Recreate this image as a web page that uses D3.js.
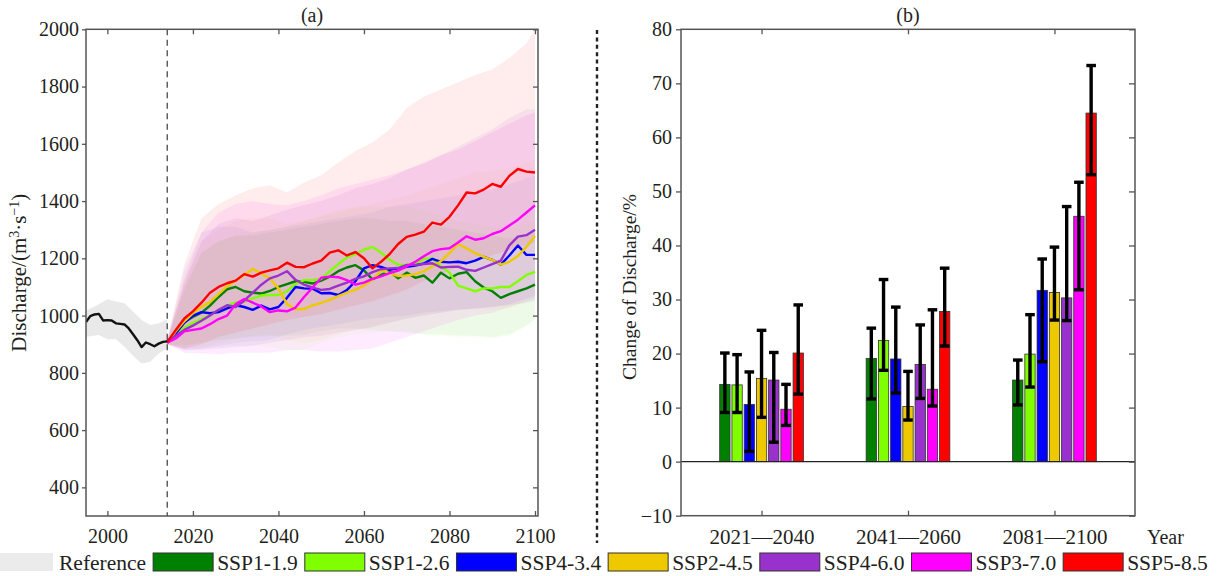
<!DOCTYPE html>
<html><head><meta charset="utf-8">
<script src="https://cdn.jsdelivr.net/npm/d3@7"></script>
<style>
html,body{margin:0;padding:0;background:#fff;}
</style></head><body>
<svg id="chart" width="1217" height="576"></svg>
<script>
// ---------- scenarios ----------
const scenarios = ["SSP1-1.9","SSP1-2.6","SSP4-3.4","SSP2-4.5","SSP4-6.0","SSP3-7.0","SSP5-8.5"];
const colors    = ["#008000","#7FFF00","#0000FF","#EEC900","#9932CC","#FF00FF","#FF0000"];
const bandAlpha = [0.045,0.05,0.045,0.05,0.075,0.08,0.075];

// ---------- panel (a): observed reference period ----------
const refYears = d3.range(1995, 2015);
const refDischarge = [977,998,1004,1006,983,984,983,973,971,969,955,935,914,890,906,900,893,902,908,910];
const refBandYears = [1995,1998,2000,2002,2004,2006,2008,2010,2012,2014];
const refUpper = [1017,1040,1057,1049,1043,1014,985,967,973,987];
const refLower = [926,932,917,917,891,860,833,839,868,886];

// ---------- panel (a): projected ensemble means (every 2 years, 2014-2100) ----------
const projYears = d3.range(2014, 2101, 2);
const ssp119 = [905,940,978,995,1010,1035,1065,1092,1100,1085,1080,1077,1086,1100,1110,1120,1118,1112,1122,1136,1155,1168,1176,1158,1126,1142,1155,1130,1150,1132,1140,1115,1150,1130,1146,1152,1120,1098,1085,1062,1075,1085,1095,1108];
const ssp126 = [905,935,958,975,988,1002,1018,1035,1046,1048,1060,1070,1072,1072,1085,1110,1124,1124,1128,1155,1180,1203,1215,1230,1240,1220,1195,1178,1177,1180,1198,1200,1172,1150,1105,1095,1085,1095,1095,1100,1100,1120,1142,1153];
const ssp434 = [910,938,975,1000,1012,1008,1012,1025,1036,1030,1020,1035,1022,1030,1062,1100,1095,1094,1078,1079,1072,1089,1120,1165,1176,1170,1160,1165,1170,1175,1182,1198,1188,1186,1188,1183,1192,1205,1195,1178,1210,1245,1212,1212];
const ssp245 = [905,945,980,1008,1030,1048,1075,1102,1122,1142,1163,1148,1130,1095,1040,1022,1023,1036,1044,1055,1068,1080,1090,1105,1125,1158,1148,1138,1140,1145,1155,1172,1190,1218,1250,1235,1218,1205,1195,1178,1188,1208,1240,1278];
const ssp460 = [905,930,950,965,982,1000,1020,1036,1030,1052,1080,1108,1130,1140,1155,1125,1108,1098,1090,1093,1105,1115,1128,1137,1152,1162,1165,1166,1177,1177,1180,1183,1168,1170,1171,1160,1156,1168,1180,1192,1245,1276,1281,1300];
const ssp370 = [905,920,945,950,955,970,988,1000,1040,1058,1045,1032,1012,1018,1015,1028,1065,1098,1132,1136,1134,1124,1108,1115,1128,1137,1148,1157,1172,1188,1207,1225,1232,1235,1255,1277,1265,1270,1285,1295,1315,1335,1360,1385];
const ssp585 = [907,950,990,1015,1045,1080,1100,1113,1122,1145,1136,1150,1158,1165,1185,1170,1169,1182,1192,1220,1228,1210,1222,1200,1165,1188,1215,1250,1275,1283,1293,1325,1318,1345,1385,1430,1427,1440,1460,1450,1488,1512,1503,1500];

// ---------- panel (a): model spread (every 4 years + 2100) ----------
const bandYears = d3.range(2014, 2099, 4).concat([2100]);
const ssp119Upper = [915,1090,1220,1260,1280,1280,1290,1300,1310,1320,1330,1340,1340,1330,1330,1320,1310,1300,1290,1280,1270,1280,1290];
const ssp119Lower = [900,895,905,915,920,925,930,930,935,945,955,955,950,945,940,935,935,930,930,925,935,965,990];
const ssp126Upper = [915,1100,1220,1260,1280,1290,1300,1310,1330,1350,1370,1380,1380,1380,1380,1370,1350,1330,1320,1310,1310,1320,1330];
const ssp126Lower = [900,885,885,890,895,895,890,880,880,905,925,935,940,945,945,935,930,925,925,920,930,960,985];
const ssp434Upper = [915,1160,1290,1310,1310,1290,1300,1310,1320,1330,1340,1350,1360,1380,1390,1400,1410,1420,1430,1440,1460,1480,1490];
const ssp434Lower = [900,880,885,895,905,910,915,935,950,960,970,980,990,995,1000,1010,1015,1020,1025,1030,1035,1045,1050];
const ssp245Upper = [915,1120,1260,1300,1330,1340,1340,1320,1330,1345,1360,1375,1390,1405,1420,1440,1460,1480,1500,1505,1515,1535,1545];
const ssp245Lower = [900,885,890,905,920,930,935,915,905,915,935,950,960,975,990,1000,1010,1020,1020,1020,1025,1045,1055];
const ssp460Upper = [915,1110,1260,1320,1340,1330,1350,1370,1385,1400,1420,1445,1460,1480,1510,1530,1560,1590,1620,1650,1690,1720,1720];
const ssp460Lower = [900,880,880,885,890,895,905,915,925,930,940,950,960,975,990,1000,1010,1020,1025,1030,1040,1060,1070];
const ssp370Upper = [915,1130,1290,1360,1390,1400,1390,1385,1400,1420,1445,1460,1475,1490,1510,1535,1560,1580,1610,1640,1670,1700,1710];
const ssp370Lower = [900,870,868,865,870,870,870,880,880,875,875,880,885,905,925,945,965,985,1000,1010,1030,1050,1060];
const ssp585Upper = [915,1180,1340,1390,1420,1445,1455,1430,1465,1490,1535,1575,1605,1650,1725,1765,1790,1815,1840,1860,1900,1950,2000];
const ssp585Lower = [900,885,900,925,940,955,970,985,995,1005,1020,1035,1050,1070,1090,1120,1145,1170,1190,1210,1230,1245,1255];

const yTicksA = [400,600,800,1000,1200,1400,1600,1800,2000];
const xTicksA = [2000,2020,2040,2060,2080,2100];

// ---------- panel (b): change of discharge (%) ----------
const periods = ["2021—2040","2041—2060","2081—2100"];
const chg119 = [14.3,19.1,15.1];
const chg126 = [14.2,22.4,19.9];
const chg434 = [10.6,19.0,31.7];
const chg245 = [15.4,10.2,31.3];
const chg460 = [15.1,18.0,30.3];
const chg370 = [9.7,13.4,45.4];
const chg585 = [20.1,27.8,64.5];
const low119 = [9.1,11.6,10.5],  high119 = [20.1,24.7,18.8];
const low126 = [9.1,16.9,13.8],  high126 = [19.8,33.7,27.2];
const low434 = [1.9,12.7,18.5],  high434 = [16.6,28.6,37.5];
const low245 = [8.2,7.7,26.2],   high245 = [24.3,16.7,39.7];
const low460 = [3.6,11.7,26.1],  high460 = [20.2,25.3,47.2];
const low370 = [6.7,10.3,31.8],  high370 = [14.3,28.1,51.7];
const low585 = [12.5,21.4,53.1], high585 = [29.0,35.8,73.3];
const yTicksB = [-10,0,10,20,30,40,50,60,70,80];

// ---------- assembled tables ----------
const lineSeries = [ssp119,ssp126,ssp434,ssp245,ssp460,ssp370,ssp585];
const upperSeries = [ssp119Upper,ssp126Upper,ssp434Upper,ssp245Upper,ssp460Upper,ssp370Upper,ssp585Upper];
const lowerSeries = [ssp119Lower,ssp126Lower,ssp434Lower,ssp245Lower,ssp460Lower,ssp370Lower,ssp585Lower];
const chgSeries = [chg119,chg126,chg434,chg245,chg460,chg370,chg585];
const lowSeries = [low119,low126,low434,low245,low460,low370,low585];
const highSeries = [high119,high126,high434,high245,high460,high370,high585];

const FONT = '"Liberation Serif","Times New Roman",serif';
const INK = "#231f20";
const AXIS = "#555";

const svg = d3.select("#chart").attr("font-family", FONT);

function styleAxis(g, size) {
  g.attr("font-family", FONT).attr("font-size", size);
  g.select(".domain").remove();
  g.selectAll(".tick line").attr("stroke", AXIS).attr("stroke-width", 1.3);
  g.selectAll(".tick text").attr("fill", INK);
}

// ================= Panel (a) =================
const A = {l: 86, r: 538, t: 29.3, b: 516};
const xA = d3.scaleLinear().domain([1995, 2100.7]).range([A.l, A.r]);
const yA = d3.scaleLinear().domain([300, 2000]).range([A.b, A.t]);

svg.append("clipPath").attr("id", "clipA").append("rect")
  .attr("x", A.l).attr("y", A.t).attr("width", A.r - A.l).attr("height", A.b - A.t);
const plotA = svg.append("g").attr("clip-path", "url(#clipA)");

const areaA = d3.area().x(d => xA(d[0])).y0(d => yA(d[1])).y1(d => yA(d[2]));
const lineA = d3.line().x(d => xA(d[0])).y(d => yA(d[1]));

// reference spread
plotA.append("path")
  .datum(refBandYears.map((yr, i) => [yr, refLower[i], refUpper[i]]))
  .attr("d", areaA).attr("fill", "#e9e9e9");

// scenario spreads
scenarios.forEach((s, k) => {
  plotA.append("path")
    .datum(bandYears.map((yr, i) => [yr, lowerSeries[k][i], upperSeries[k][i]]))
    .attr("d", areaA).attr("fill", colors[k]).attr("fill-opacity", bandAlpha[k]);
});

// start of projection period
plotA.append("line")
  .attr("x1", xA(2014)).attr("x2", xA(2014)).attr("y1", A.t).attr("y2", A.b)
  .attr("stroke", "#555").attr("stroke-width", 1.4).attr("stroke-dasharray", "6,4.5");

// scenario means
scenarios.forEach((s, k) => {
  plotA.append("path")
    .datum(projYears.map((yr, i) => [yr, lineSeries[k][i]]))
    .attr("d", lineA).attr("fill", "none").attr("stroke", colors[k])
    .attr("stroke-width", 2.4).attr("stroke-linejoin", "round");
});

// observed reference
plotA.append("path")
  .datum(refYears.map((yr, i) => [yr, refDischarge[i]]))
  .attr("d", lineA).attr("fill", "none").attr("stroke", "#111")
  .attr("stroke-width", 2.4).attr("stroke-linejoin", "round");

// axes of (a)
svg.append("g").attr("transform", `translate(${A.l},0)`)
  .call(d3.axisLeft(yA).tickValues(yTicksA).tickSize(4).tickPadding(3).tickFormat(d3.format("d")))
  .call(g => styleAxis(g, 20));
svg.append("g").attr("transform", `translate(${A.r},0)`)
  .call(d3.axisRight(yA).tickValues(yTicksA).tickSize(-5).tickFormat(""))
  .call(g => styleAxis(g, 20));
svg.append("g").attr("transform", `translate(0,${A.b})`)
  .call(d3.axisBottom(xA).tickValues(xTicksA).tickSize(-5).tickPadding(13).tickFormat(d3.format("d")))
  .call(g => styleAxis(g, 20));
svg.append("g").attr("transform", `translate(0,${A.t})`)
  .call(d3.axisTop(xA).tickValues(xTicksA).tickSize(-5).tickFormat(""))
  .call(g => styleAxis(g, 20));
svg.append("rect").attr("x", A.l).attr("y", A.t).attr("width", A.r - A.l).attr("height", A.b - A.t)
  .attr("fill", "none").attr("stroke", AXIS).attr("stroke-width", 1.5);

svg.append("text").attr("x", (A.l + A.r) / 2).attr("y", 22).attr("text-anchor", "middle")
  .attr("font-size", 20).attr("fill", INK).text("(a)");

const yLabA = svg.append("text").attr("transform", `translate(26,${(A.t + A.b) / 2}) rotate(-90)`)
  .attr("text-anchor", "middle").attr("font-size", 21).attr("fill", INK);
yLabA.append("tspan").text("Discharge/(m");
yLabA.append("tspan").attr("font-size", 14).attr("dy", -7).text("3");
yLabA.append("tspan").attr("dy", 7).text("·s");
yLabA.append("tspan").attr("font-size", 14).attr("dy", -7).text("−1");
yLabA.append("tspan").attr("dy", 7).text(")");

// panel separator
svg.append("line").attr("x1", 597).attr("x2", 597).attr("y1", 30).attr("y2", 543)
  .attr("stroke", "#222").attr("stroke-width", 2.4).attr("stroke-dasharray", "4,3.4");

// ================= Panel (b) =================
const B = {l: 681, r: 1135, t: 29.3, b: 515.7};
const xB = d3.scaleLinear().domain([0.45, 3.55]).range([B.l, B.r]);
const yB = d3.scaleLinear().domain([-10, 80]).range([B.b, B.t]);
const pitch = 0.0835, barW = 0.0705;
const pos = [1, 2, 3];

const plotB = svg.append("g");
scenarios.forEach((s, k) => {
  pos.forEach((p, j) => {
    const cx = xB(p + (k - 3) * pitch);
    const w = xB(barW) - xB(0);
    const v = chgSeries[k][j];
    plotB.append("rect")
      .attr("x", cx - w / 2).attr("width", w)
      .attr("y", yB(Math.max(v, 0))).attr("height", Math.abs(yB(v) - yB(0)))
      .attr("fill", colors[k]).attr("stroke", "#333").attr("stroke-width", 0.8);
  });
});
// zero line
plotB.append("line").attr("x1", B.l).attr("x2", B.r).attr("y1", yB(0)).attr("y2", yB(0))
  .attr("stroke", "#222").attr("stroke-width", 1.1);
// error bars
scenarios.forEach((s, k) => {
  pos.forEach((p, j) => {
    const cx = xB(p + (k - 3) * pitch);
    const lo = yB(lowSeries[k][j]), hi = yB(highSeries[k][j]);
    const eb = plotB.append("g").attr("stroke", "#000").attr("stroke-width", 3.4);
    eb.append("line").attr("x1", cx).attr("x2", cx).attr("y1", lo).attr("y2", hi);
    eb.append("line").attr("x1", cx - 4.8).attr("x2", cx + 4.8).attr("y1", lo).attr("y2", lo);
    eb.append("line").attr("x1", cx - 4.8).attr("x2", cx + 4.8).attr("y1", hi).attr("y2", hi);
  });
});

// axes of (b)
svg.append("g").attr("transform", `translate(${B.l},0)`)
  .call(d3.axisLeft(yB).tickValues(yTicksB).tickSize(5).tickPadding(4))
  .call(g => styleAxis(g, 20));
svg.append("g").attr("transform", `translate(${B.r},0)`)
  .call(d3.axisRight(yB).tickValues(yTicksB).tickSize(-6).tickFormat(""))
  .call(g => styleAxis(g, 20));
svg.append("g").attr("transform", `translate(0,${B.b})`)
  .call(d3.axisBottom(xB).tickValues(pos).tickSize(-5).tickPadding(13).tickFormat((d, i) => periods[i]))
  .call(g => styleAxis(g, 21));
svg.append("g").attr("transform", `translate(0,${B.t})`)
  .call(d3.axisTop(xB).tickValues(pos).tickSize(-5).tickFormat(""))
  .call(g => styleAxis(g, 21));
svg.append("rect").attr("x", B.l).attr("y", B.t).attr("width", B.r - B.l).attr("height", B.b - B.t)
  .attr("fill", "none").attr("stroke", AXIS).attr("stroke-width", 1.5);

svg.append("text").attr("x", (B.l + B.r) / 2).attr("y", 22).attr("text-anchor", "middle")
  .attr("font-size", 20).attr("fill", INK).text("(b)");
svg.append("text").attr("x", 1147).attr("y", 544).attr("font-size", 20).attr("fill", INK).text("Year");
svg.append("text").attr("transform", `translate(636,287) rotate(-90)`)
  .attr("text-anchor", "middle").attr("font-size", 19.5).attr("fill", INK).text("Change of Discharge/%");

// ================= Legend =================
const leg = svg.append("g").attr("font-size", 21.5).attr("fill", INK);
const legY = 553, legH = 18, legBase = 569.5;
leg.append("rect").attr("x", 0).attr("y", legY).attr("width", 53).attr("height", legH).attr("fill", "#ebebeb");
let lx = 59;
const refText = leg.append("text").attr("x", lx).attr("y", legBase).attr("fill", INK).text("Reference");
lx += refText.node().getComputedTextLength() + 7;
scenarios.forEach((s, k) => {
  leg.append("rect").attr("x", lx).attr("y", legY).attr("width", 60).attr("height", legH)
    .attr("fill", colors[k]).attr("stroke", "#333").attr("stroke-width", 1);
  lx += 64;
  const t = leg.append("text").attr("x", lx).attr("y", legBase).attr("fill", INK).text(s);
  lx += t.node().getComputedTextLength() + 7;
});
</script>
</body></html>
